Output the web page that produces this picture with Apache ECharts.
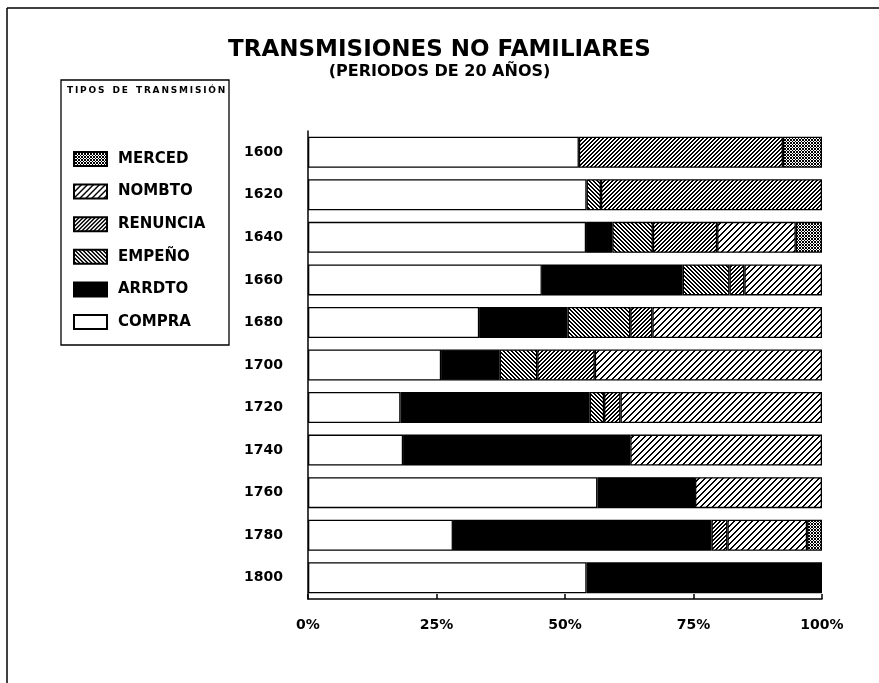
<!DOCTYPE html>
<html><head><meta charset="utf-8">
<script src="https://cdn.jsdelivr.net/npm/echarts@6/dist/echarts.min.js"></script>
<style>html,body{margin:0;padding:0;background:#fff}#c{width:879px;height:683px}</style>
</head><body><div id="c"></div>
<script>
// ---- data ----
const periods  = ['1600','1620','1640','1660','1680','1700','1720','1740','1760','1780','1800'];
const compra   = [52.7, 54.2, 54.1, 45.5, 33.3, 25.9, 18.0, 18.5, 56.3, 28.2, 54.2];
const arrdto   = [0,    0,    5.1,  27.4, 17.2, 11.4, 36.8, 44.2, 19.0, 50.3, 45.8];
const empeno   = [0,    2.8,  7.9,  9.1,  12.2, 7.3,  2.8,  0,    0,    0,    0];
const renuncia = [39.7, 43.0, 12.5, 2.9,  4.3,  11.2, 3.2,  0,    0,    3.1,  0];
const nombto   = [0,    0,    15.3, 15.1, 33.0, 44.2, 39.2, 37.3, 24.7, 15.5, 0];
const merced   = [7.6,  0,    5.1,  0,    0,    0,    0,    0,    0,    2.9,  0];
const seriesNames = ['COMPRA','ARRDTO','EMPEÑO','RENUNCIA','NOMBTO','MERCED'];
const legendOrder = ['MERCED','NOMBTO','RENUNCIA','EMPEÑO','ARRDTO','COMPRA'];
const xTickStep = 25;

// ---- patterns ----
function pat(size, fn) {
  const c = document.createElement('canvas');
  c.width = size; c.height = size;
  const ctx = c.getContext('2d');
  const img = ctx.createImageData(size, size);
  for (let y = 0; y < size; y++) for (let x = 0; x < size; x++) {
    const k = (y * size + x) * 4;
    const v = fn(x, y) ? 0 : 255;
    img.data[k] = v; img.data[k+1] = v; img.data[k+2] = v; img.data[k+3] = 255;
  }
  ctx.putImageData(img, 0, 0);
  return { image: c, repeat: 'repeat' };
}
const m = (a, n) => ((a % n) + n) % n;
const fills = {
  'COMPRA': '#ffffff',
  'ARRDTO': '#000000',
  'EMPEÑO': pat(4, (x, y) => m(x - y, 4) < 2),
  'RENUNCIA': pat(4, (x, y) => m(x + y, 4) < 2),
  'NOMBTO': pat(6, (x, y) => m(x + y, 6) < 2),
  'MERCED': pat(3, (x, y) => m(x + y, 3) === 0 || m(x - y, 3) === 0)
};
const values = {
  'COMPRA': compra, 'ARRDTO': arrdto, 'EMPEÑO': empeno,
  'RENUNCIA': renuncia, 'NOMBTO': nombto, 'MERCED': merced
};

const FONT = 'DejaVu Sans';
const chart = echarts.init(document.getElementById('c'), null, { renderer: 'canvas' });
chart.setOption({
  animation: false,
  backgroundColor: '#fff',
  title: {
    text: 'TRANSMISIONES NO FAMILIARES',
    subtext: '(PERIODOS DE 20 AÑOS)',
    left: 'center', top: 34, itemGap: 2,
    textStyle: { fontFamily: FONT, fontWeight: 'bold', fontSize: 23, color: '#000' },
    subtextStyle: { fontFamily: FONT, fontWeight: 'bold', fontSize: 16, color: '#000' }
  },
  legend: {
    data: legendOrder,
    orient: 'vertical', left: 68, top: 146,
    itemWidth: 33, itemHeight: 14, itemGap: 16.6,
    icon: 'rect',
    textStyle: { fontFamily: FONT, fontWeight: 'bold', fontSize: 15, color: '#000', padding: [0,0,0,6] }
  },
  grid: { left: 308, right: 57, top: 131, bottom: 84 },
  xAxis: {
    type: 'value', min: 0, max: 100, interval: xTickStep,
    axisLine: { show: true, lineStyle: { color: '#000', width: 1.5 } },
    axisTick: { show: true, inside: true, length: 5, lineStyle: { color: '#000', width: 1.5 } },
    axisLabel: { formatter: '{value}%', fontFamily: FONT, fontWeight: 'bold', fontSize: 14, color: '#000', margin: 19 },
    splitLine: { show: false }
  },
  yAxis: {
    type: 'category', data: periods, inverse: true,
    axisLine: { show: true, lineStyle: { color: '#000', width: 1.5 } },
    axisTick: { show: false },
    axisLabel: { fontFamily: FONT, fontWeight: 'bold', fontSize: 14, color: '#000', margin: 25 }
  },
  series: seriesNames.map(n => ({
    name: n, type: 'bar', stack: 'total', barWidth: 31,
    itemStyle: { color: fills[n], borderColor: '#000', borderWidth: 1.3 },
    data: values[n].map(v => v === 0 ? '-' : v)
  })),
  graphic: [
    { type: 'line', shape: { x1: 7, y1: 8, x2: 879, y2: 8 }, style: { stroke: '#000', lineWidth: 1.5 } },
    { type: 'line', shape: { x1: 7, y1: 8, x2: 7, y2: 683 }, style: { stroke: '#000', lineWidth: 1.5 } },
    { type: 'rect', shape: { x: 61, y: 80, width: 168, height: 265 }, style: { fill: 'none', stroke: '#000', lineWidth: 1.3 } },
    { type: 'text', left: 67, top: 86, style: { text: 'T\u2009I\u2009P\u2009O\u2009S\u2009  D\u2009E\u2009  T\u2009R\u2009A\u2009N\u2009S\u2009M\u2009I\u2009S\u2009I\u2009Ó\u2009N', font: 'bold 9px "DejaVu Sans"', fill: '#000' } }
  ]
});
</script></body></html>
